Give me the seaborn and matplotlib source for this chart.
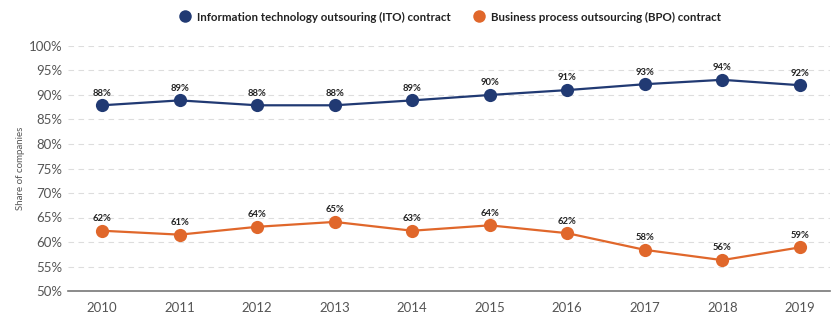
import matplotlib
matplotlib.use("Agg")
import matplotlib.pyplot as plt
import seaborn as sns
import pandas as pd
from matplotlib.ticker import FixedLocator, FuncFormatter
from matplotlib.lines import Line2D

years = [2010, 2011, 2012, 2013, 2014, 2015, 2016, 2017, 2018, 2019]
ito_values = [87.9, 88.9, 87.9, 87.9, 88.9, 90.0, 91.0, 92.2, 93.1, 92.0]
ito_labels = ["88%", "89%", "88%", "88%", "89%", "90%", "91%", "93%", "94%", "92%"]
bpo_values = [62.3, 61.5, 63.1, 64.1, 62.3, 63.4, 61.8, 58.4, 56.3, 58.9]
bpo_labels = ["62%", "61%", "64%", "65%", "63%", "64%", "62%", "58%", "56%", "59%"]
series_names = ["Information technology outsouring (ITO) contract",
                "Business process outsourcing (BPO) contract"]
y_ticks = [50, 55, 60, 65, 70, 75, 80, 85, 90, 95, 100]
y_label = "Share of companies"

NAVY = "#213a73"
ORANGE = "#e0672b"

sns.set_style("white")
plt.rcParams['font.family'] = ['Lato', 'DejaVu Sans']

df = pd.DataFrame({
    "year": [str(y) for y in years] * 2,
    "value": ito_values + bpo_values,
    "series": [series_names[0]] * len(years) + [series_names[1]] * len(years),
})

fig = plt.figure(figsize=(8.35, 3.27), dpi=100)
ax = fig.add_axes([68 / 835, 1 - 291 / 327, (830 - 68) / 835, (291 - 46) / 327])

sns.lineplot(data=df, x="year", y="value", hue="series", sort=False,
             palette=[NAVY, ORANGE], marker="o", markersize=9.5,
             markeredgewidth=0, linewidth=1.6, ax=ax, legend=False, zorder=3)

for vals, labs in ((ito_values, ito_labels), (bpo_values, bpo_labels)):
    for i, (v, l) in enumerate(zip(vals, labs)):
        ax.annotate(l, (i, v), xytext=(0, 5.5), textcoords="offset points",
                    ha="center", va="bottom", fontsize=6.8, fontweight="bold",
                    color="#222222")

ax.set_ylim(50, 100)
ax.set_xlim(-0.44, 9.39)
ax.yaxis.set_major_locator(FixedLocator(y_ticks))
ax.yaxis.set_major_formatter(FuncFormatter(lambda v, p: f"{int(v)}%"))
ax.grid(axis="y", color="#dddddd", linestyle=(0, (5, 4)), linewidth=0.8, zorder=0)
ax.grid(axis="x", visible=False)
for s in ("top", "right", "left"):
    ax.spines[s].set_visible(False)
ax.spines["bottom"].set_color("#777777")
ax.spines["bottom"].set_linewidth(1.2)
ax.tick_params(axis="both", length=0, colors="#555555", labelsize=9.5)
ax.tick_params(axis="x", pad=8)
ax.tick_params(axis="y", pad=4)
ax.set_xlabel("")
ax.set_ylabel(y_label, fontsize=7, color="#555555", labelpad=3)

handles = [Line2D([], [], marker="o", linestyle="", color=c, markersize=9, markeredgewidth=0)
           for c in (NAVY, ORANGE)]
leg = fig.legend(handles, series_names, loc="center", bbox_to_anchor=(0.539, 0.948),
                 ncol=2, frameon=False, fontsize=8.3, handletextpad=0.6,
                 columnspacing=1.9, handlelength=1.0)
for t in leg.get_texts():
    t.set_fontweight("bold")
    t.set_color("#222222")

fig.savefig("out.png", dpi=100)
